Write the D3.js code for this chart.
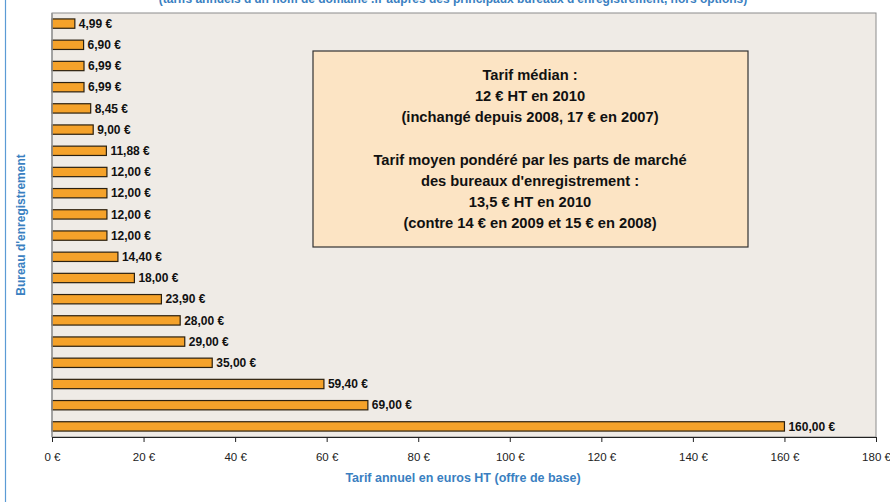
<!DOCTYPE html>
<html><head><meta charset="utf-8">
<script src="https://cdn.jsdelivr.net/npm/d3@7"></script>
<style>body{margin:0;background:#fff}svg{display:block;font-family:Arial,"Liberation Sans",sans-serif}</style>
</head><body>
<svg id="c" width="890" height="502"></svg>
<script>
const registrars = ["R1","R2","R3","R4","R5","R6","R7","R8","R9","R10","R11","R12","R13","R14","R15","R16","R17","R18","R19","R20"];
const prices = [4.99,6.90,6.99,6.99,8.45,9.00,11.88,12.00,12.00,12.00,12.00,14.40,18.00,23.90,28.00,29.00,35.00,59.40,69.00,160.00];
const xTicks = [0,20,40,60,80,100,120,140,160,180];
const subtitle = "(tarifs annuels d'un nom de domaine .fr auprès des principaux bureaux d'enregistrement, hors options)";
const boxLines = ["Tarif médian :","12 € HT en 2010","(inchangé depuis 2008, 17 € en 2007)","","Tarif moyen pondéré par les parts de marché","des bureaux d'enregistrement :","13,5 € HT en 2010","(contre 14 € en 2009 et 15 € en 2008)"];
const xTitle = "Tarif annuel en euros HT (offre de base)";
const yTitle = "Bureau d'enregistrement";

const svg = d3.select("#c");
const L=52, R=876, T=13, B=437;
const blue="#3A7FC1";
const fmt = v => v.toFixed(2).replace(".", ",") + " €";

svg.append("line").attr("x1",5.5).attr("x2",5.5).attr("y1",0).attr("y2",502).attr("stroke","#5B9BD5").attr("stroke-width",1.2);
svg.append("text").attr("x",453).attr("y",3).attr("text-anchor","middle").attr("font-size",12).attr("font-weight","bold").attr("fill",blue).text(subtitle);

const x = d3.scaleLinear().domain([0,180]).range([L,R]);
const y = d3.scaleBand().domain(registrars).range([T,B]).paddingInner(0.56).paddingOuter(0.28);

svg.append("rect").attr("x",L).attr("y",T).attr("width",R-L).attr("height",B-T).attr("fill","#EFEBE6").attr("stroke","#8C8C8C").attr("stroke-width",1);

const g = svg.append("g");
g.selectAll("rect.bar").data(prices).join("rect").attr("class","bar")
 .attr("x",x(0)).attr("y",(d,i)=>y(registrars[i])).attr("width",d=>x(d)-x(0)).attr("height",y.bandwidth())
 .attr("fill","#F5A22A").attr("stroke","#2b2010").attr("stroke-width",1.2);
g.selectAll("text.lab").data(prices).join("text").attr("class","lab")
 .attr("x",d=>x(d)+4).attr("y",(d,i)=>y(registrars[i])+y.bandwidth()/2+4.2)
 .attr("font-size",12).attr("font-weight","bold").attr("fill","#111").text(d=>fmt(d));

const ax = svg.append("g").attr("transform",`translate(0,${B})`)
 .call(d3.axisBottom(x).tickValues(xTicks).tickSize(5).tickSizeOuter(0).tickFormat(d=>d+" €"));
ax.select(".domain").attr("stroke","#222").attr("stroke-width",1);
ax.selectAll(".tick line").attr("stroke","#222");
ax.selectAll(".tick text").attr("font-size",11.5).attr("fill","#222").attr("font-family","Arial,'Liberation Sans',sans-serif").attr("dy","1.4em");
svg.append("line").attr("x1",L).attr("x2",L).attr("y1",T).attr("y2",B).attr("stroke","#999").attr("stroke-width",1.5);

svg.append("text").attr("x",463).attr("y",482).attr("text-anchor","middle").attr("font-size",12.5).attr("font-weight","bold").attr("fill",blue).text(xTitle);
svg.append("text").attr("transform","translate(25,225) rotate(-90)").attr("text-anchor","middle").attr("font-size",12).attr("font-weight","bold").attr("fill",blue).text(yTitle);

svg.append("rect").attr("x",313).attr("y",51).attr("width",435).attr("height",196).attr("fill","#FCE4C4").attr("stroke","#333").attr("stroke-width",1.2);
svg.append("g").selectAll("text").data(boxLines).join("text")
 .attr("x",530).attr("y",(d,i)=>80+i*21.2).attr("text-anchor","middle").attr("font-size",14.7).attr("font-weight","bold").attr("fill","#111").text(d=>d);
</script>
</body></html>
